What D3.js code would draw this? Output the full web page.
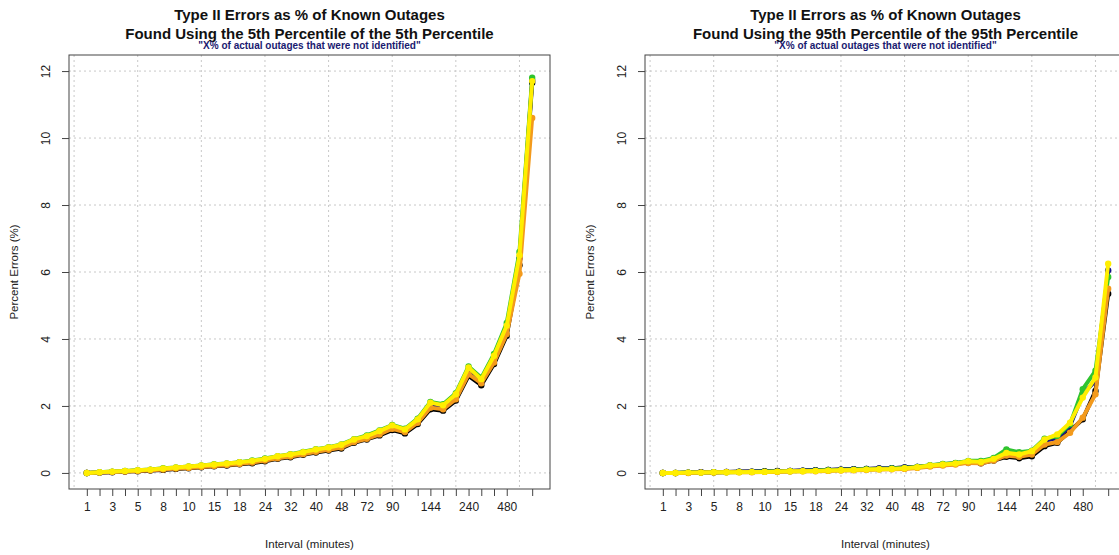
<!DOCTYPE html>
<html>
<head>
<meta charset="utf-8">
<script src="https://cdnjs.cloudflare.com/ajax/libs/d3/7.8.5/d3.min.js"></script>
<style>
  body { margin: 0; background: #ffffff; }
  svg { display: block; font-family: "Liberation Sans", Arial, sans-serif; }
</style>
</head>
<body>
<div id="chartDiv"></div>
<script>
//----------------------------------------------------------------------------------------------------
// interval lengths in minutes (all divisors of one day), one point per interval
var intervals = [1, 2, 3, 4, 5, 6, 8, 9, 10, 12, 15, 16, 18, 20, 24, 30, 32, 36, 40, 45, 48,
                 60, 72, 80, 90, 96, 120, 144, 160, 180, 240, 288, 360, 480, 720, 1440];

// labels R managed to fit under the axis
var shownLabels = [1, 3, 5, 8, 10, 15, 18, 24, 32, 40, 48, 72, 90, 144, 240, 480];
// ticks are missing under 20 and 720 in the original
var missingTicks = [20, 720];

var yTicks = [0, 2, 4, 6, 8, 10, 12];
var gridX = [0, 5, 10, 15, 20, 25, 30, 35];   // in point-index units (1-based)

var seriesNames  = ["black", "navy", "green", "orange", "yellow"];
var seriesColors = ["#000000", "#10108a", "#2fc42f", "#f39a1c", "#ffee00"];

// 5th percentile of the 5th percentile
var leftBlack  = [0.00,0.01,0.02,0.04,0.05,0.07,0.09,0.12,0.14,0.17,0.20,0.22,0.26,0.29,0.35,0.42,0.47,0.54,0.61,0.67,0.73,0.90,1.00,1.12,1.28,1.18,1.46,1.90,1.86,2.16,2.90,2.62,3.25,4.10,6.20,11.65];
var leftNavy   = [0.00,0.01,0.03,0.05,0.07,0.09,0.12,0.15,0.18,0.21,0.24,0.27,0.31,0.35,0.41,0.48,0.53,0.60,0.68,0.74,0.82,0.97,1.07,1.22,1.38,1.27,1.56,2.05,1.98,2.30,3.08,2.74,3.44,4.32,6.40,11.72];
var leftGreen  = [0.00,0.02,0.04,0.06,0.08,0.10,0.14,0.16,0.19,0.22,0.26,0.28,0.32,0.37,0.43,0.50,0.56,0.63,0.71,0.77,0.85,1.01,1.12,1.27,1.43,1.32,1.62,2.12,2.05,2.38,3.18,2.84,3.55,4.48,6.60,11.80];
var leftOrange = [0.00,0.01,0.03,0.04,0.06,0.08,0.10,0.13,0.15,0.18,0.21,0.24,0.27,0.31,0.37,0.44,0.49,0.56,0.63,0.69,0.76,0.92,1.02,1.15,1.32,1.22,1.50,1.95,1.90,2.20,2.95,2.68,3.30,4.15,5.95,10.60];
var leftYellow = [0.00,0.02,0.04,0.06,0.08,0.10,0.13,0.16,0.19,0.22,0.25,0.28,0.32,0.36,0.42,0.50,0.55,0.62,0.70,0.76,0.84,1.00,1.10,1.25,1.42,1.30,1.60,2.10,2.02,2.35,3.15,2.80,3.50,4.40,6.50,11.70];

// 95th percentile of the 95th percentile
var rightBlack  = [0.00,0.00,0.01,0.02,0.02,0.03,0.04,0.04,0.05,0.06,0.06,0.07,0.08,0.09,0.10,0.11,0.12,0.13,0.14,0.16,0.18,0.21,0.24,0.27,0.31,0.29,0.37,0.48,0.44,0.50,0.80,0.90,1.25,1.60,2.45,5.35];
var rightNavy   = [0.00,0.00,0.01,0.02,0.02,0.03,0.03,0.04,0.04,0.05,0.06,0.07,0.08,0.09,0.10,0.11,0.12,0.13,0.14,0.16,0.18,0.22,0.26,0.29,0.34,0.33,0.42,0.62,0.56,0.62,0.95,1.05,1.40,2.35,2.75,6.05];
var rightGreen  = [0.00,0.00,0.01,0.01,0.02,0.02,0.03,0.03,0.04,0.04,0.05,0.06,0.07,0.08,0.09,0.10,0.11,0.12,0.13,0.15,0.18,0.23,0.27,0.30,0.36,0.36,0.45,0.70,0.62,0.66,1.02,1.10,1.45,2.50,3.05,5.85];
var rightOrange = [0.00,0.00,0.00,0.01,0.01,0.02,0.02,0.02,0.03,0.03,0.04,0.05,0.05,0.06,0.07,0.08,0.09,0.10,0.11,0.12,0.15,0.19,0.22,0.25,0.30,0.29,0.37,0.52,0.48,0.55,0.85,0.92,1.20,1.65,2.35,5.50];
var rightYellow = [0.00,0.00,0.01,0.01,0.02,0.02,0.02,0.03,0.03,0.04,0.05,0.05,0.06,0.07,0.08,0.09,0.10,0.11,0.12,0.14,0.17,0.22,0.25,0.28,0.35,0.33,0.42,0.60,0.55,0.65,1.00,1.15,1.50,2.25,2.85,6.25];

var titleLine1 = "Type II Errors as % of Known Outages";
var subTitle   = "\"X% of actual outages that were not identified\"";
var xTitle     = "Interval (minutes)";
var yTitle     = "Percent Errors (%)";

//----------------------------------------------------------------------------------------------------
var OutageChart = {

    width: 1119,
    height: 555,
    svg: null,

//----------------------------------------------------------------------------------------------------
init: function () {

   this.svg = d3.select("#chartDiv")
      .append("svg")
      .attr("width", this.width)
      .attr("height", this.height);

   this.drawPanel(69, "Found Using the 5th Percentile of the 5th Percentile",
                  [leftBlack, leftNavy, leftGreen, leftOrange, leftYellow]);

   this.drawPanel(645, "Found Using the 95th Percentile of the 95th Percentile",
                  [rightBlack, rightNavy, rightGreen, rightOrange, rightYellow]);

}, // init
//----------------------------------------------------------------------------------------------------
drawPanel: function (left, titleLine2, seriesList) {

   var svg = this.svg;
   var boxWidth = 481;
   var top = 55, bottom = 489;
   var right = left + boxWidth;
   var mid = left + boxWidth / 2;

     // R style: 4% padding on both sides of the data range
   var n = intervals.length;
   var xScale = d3.scaleLinear()
                  .domain([1 - 0.04 * (n - 1), n + 0.04 * (n - 1)])
                  .range([left, right]);

   var yScale = d3.scaleLinear()
                  .domain([-0.48, 12.48])
                  .range([bottom, top]);   // note inversion

   var g = svg.append("g");

     // dotted grid
   g.selectAll("line.gridY")
      .data(yTicks)
      .enter()
      .append("line")
      .attr("x1", left).attr("x2", right)
      .attr("y1", function(d){ return yScale(d); })
      .attr("y2", function(d){ return yScale(d); })
      .attr("stroke", "#c8c8c8")
      .attr("stroke-dasharray", "2,3");

   g.selectAll("line.gridX")
      .data(gridX)
      .enter()
      .append("line")
      .attr("y1", top).attr("y2", bottom)
      .attr("x1", function(d){ return xScale(d); })
      .attr("x2", function(d){ return xScale(d); })
      .attr("stroke", "#c8c8c8")
      .attr("stroke-dasharray", "2,3");

     // the series, lines + filled points
   var line = d3.line()
                .x(function(d, i){ return xScale(i + 1); })
                .y(function(d){ return yScale(d); });

   seriesList.forEach(function(values, s){
      var color = seriesColors[s];
      g.append("path")
         .datum(values)
         .attr("class", "series-" + seriesNames[s])
         .attr("fill", "none")
         .attr("stroke", color)
         .attr("stroke-width", 4)
         .attr("stroke-linejoin", "round")
         .attr("d", line);
      g.selectAll("circle.pt" + s)
         .data(values)
         .enter()
         .append("circle")
         .attr("cx", function(d, i){ return xScale(i + 1); })
         .attr("cy", function(d){ return yScale(d); })
         .attr("r", 3.2)
         .attr("fill", color);
      });

     // box
   g.append("rect")
      .attr("x", left).attr("y", top)
      .attr("width", boxWidth).attr("height", bottom - top)
      .attr("fill", "none")
      .attr("stroke", "#444444");

     // x axis: ticks at each interval, labels only where they fit
   var tickIndex = [];
   intervals.forEach(function(v, i){
      if(missingTicks.indexOf(v) < 0) tickIndex.push(i + 1);
      });

   var xAxis = d3.axisBottom(xScale)
                 .tickValues(tickIndex)
                 .tickSize(7)
                 .tickSizeOuter(0)
                 .tickFormat(function(d){
                    var v = intervals[d - 1];
                    return shownLabels.indexOf(v) >= 0 ? v : "";
                    });

   var xg = g.append("g")
      .attr("transform", "translate(0," + bottom + ")")
      .call(xAxis);
   xg.select(".domain").remove();
   xg.selectAll("line").attr("stroke", "#444444");
   xg.selectAll("text")
      .attr("y", 18)
      .attr("dy", "0.35em")
      .style("font-size", "12px")
      .style("font-family", "'Liberation Sans', Arial, sans-serif")
      .attr("fill", "#222222");

     // y axis, labels turned like R's las = 0
   var yAxis = d3.axisLeft(yScale)
                 .tickValues(yTicks)
                 .tickSize(7)
                 .tickSizeOuter(0);

   var yg = g.append("g")
      .attr("transform", "translate(" + left + ",0)")
      .call(yAxis);
   yg.select(".domain").remove();
   yg.selectAll("line").attr("stroke", "#444444");
   yg.selectAll("text")
      .attr("x", 0).attr("y", 0).attr("dy", 0)
      .attr("text-anchor", "middle")
      .attr("transform", "translate(-19,0) rotate(-90)")
      .style("font-size", "12px")
      .style("font-family", "'Liberation Sans', Arial, sans-serif")
      .attr("fill", "#222222");

     // titles
   svg.append("text")
      .attr("x", mid).attr("y", 20)
      .attr("text-anchor", "middle")
      .style("font-size", "15px").style("font-weight", "bold")
      .attr("fill", "#111111")
      .text(titleLine1);

   svg.append("text")
      .attr("x", mid).attr("y", 39)
      .attr("text-anchor", "middle")
      .style("font-size", "15px").style("font-weight", "bold")
      .attr("fill", "#111111")
      .text(titleLine2);

   svg.append("text")
      .attr("x", mid).attr("y", 49)
      .attr("text-anchor", "middle")
      .style("font-size", "10px").style("font-weight", "bold")
      .attr("fill", "#1a1a70")
      .text(subTitle);

   svg.append("text")
      .attr("x", mid).attr("y", 548)
      .attr("text-anchor", "middle")
      .style("font-size", "11.5px")
      .attr("fill", "#222222")
      .text(xTitle);

   svg.append("text")
      .attr("transform", "translate(" + (left - 51) + "," + ((top + bottom) / 2) + ") rotate(-90)")
      .attr("text-anchor", "middle")
      .style("font-size", "11.5px")
      .attr("fill", "#222222")
      .text(yTitle);

}, // drawPanel
//----------------------------------------------------------------------------------------------------
}
//----------------------------------------------------------------------------------------------------
OutageChart.init();
</script>
</body>
</html>
